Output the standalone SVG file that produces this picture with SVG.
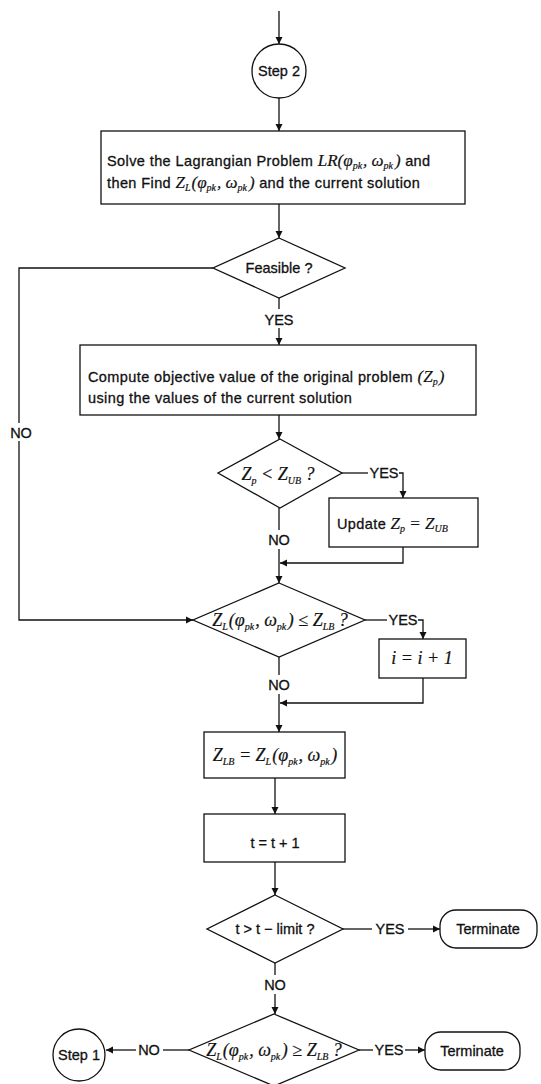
<svg xmlns="http://www.w3.org/2000/svg" width="541" height="1084" viewBox="0 0 541 1084">
<defs>
<marker id="ah" viewBox="0 0 10 10" refX="10" refY="5" markerWidth="7" markerHeight="8" orient="auto" markerUnits="userSpaceOnUse">
<path d="M0,0 L10,5 L0,10 z" fill="#111"/>
</marker>
</defs>
<style>
.s{fill:#fff;stroke:#111;stroke-width:1.3}
.c{fill:none;stroke:#111;stroke-width:1.3}
.a{fill:none;stroke:#111;stroke-width:1.3;marker-end:url(#ah)}
.t{font-family:"Liberation Sans",Arial,sans-serif;font-size:14.5px;letter-spacing:0.4px;fill:#111;stroke:#111;stroke-width:0.3}
.l{font-family:"Liberation Sans",Arial,sans-serif;font-size:14.5px;fill:#111;stroke:#111;stroke-width:0.3;text-anchor:middle}
.m{font-family:"Liberation Serif","Times New Roman",serif;font-style:italic;font-size:17px;letter-spacing:0;fill:#111;stroke:#111;stroke-width:0.2}
.d{font-family:"Liberation Serif","Times New Roman",serif;font-style:italic;font-size:18px;fill:#111;stroke:#111;stroke-width:0.2;text-anchor:middle}
.sb{font-size:10px}
</style>
<rect width="541" height="1084" fill="#fff"/>

<g id="connectors">
<path class="a" d="M279,11 V44"/>
<path class="a" d="M279,98 V131"/>
<path class="a" d="M279,204 V238"/>
<path class="c" d="M279,298 V309"/>
<path class="a" d="M279,328 V345"/>
<path class="c" d="M213,268 H19 V423"/>
<path class="a" d="M19,441 V620 H193"/>
<path class="a" d="M279,415 V439"/>
<path class="c" d="M342,473 H368"/>
<path class="a" d="M399,473 H403 V498"/>
<path class="a" d="M403,547 V563 H280"/>
<path class="c" d="M279,508 V530"/>
<path class="a" d="M279,549 V583"/>
<path class="c" d="M365,620 H387"/>
<path class="a" d="M418,620 H423 V639"/>
<path class="a" d="M423,678 V703 H280"/>
<path class="c" d="M279,657 V675"/>
<path class="a" d="M279,694 V732"/>
<path class="a" d="M275,778 V814"/>
<path class="a" d="M275,862 V895"/>
<path class="c" d="M343,929 H372"/>
<path class="a" d="M408,929 H440"/>
<path class="c" d="M275,963 V975"/>
<path class="a" d="M275,994 V1014"/>
<path class="c" d="M189,1050 H163"/>
<path class="a" d="M136,1050 H106"/>
<path class="c" d="M359,1050 H373"/>
<path class="a" d="M405,1050 H425"/>
<text class="l" x="279" y="325">YES</text>
<text class="l" x="21" y="438">NO</text>
<text class="l" x="384" y="478">YES</text>
<text class="l" x="279" y="545">NO</text>
<text class="l" x="403" y="625">YES</text>
<text class="l" x="279" y="690">NO</text>
<text class="l" x="390" y="934">YES</text>
<text class="l" x="275" y="990">NO</text>
<text class="l" x="149" y="1055">NO</text>
<text class="l" x="389" y="1055">YES</text>
</g>

<g id="step2">
<circle class="s" cx="279" cy="71" r="27"/>
<text class="l" x="279" y="76">Step 2</text>
</g>

<g id="solve-lr">
<rect class="s" x="101" y="131" width="364" height="73"/>
<text class="t" x="107" y="166">Solve the Lagrangian Problem <tspan class="m">LR</tspan><tspan class="m">(φ</tspan><tspan class="m sb" dy="3">pk</tspan><tspan class="m" dy="-3" dx="1">, ω</tspan><tspan class="m sb" dy="3">pk</tspan><tspan class="m" dy="-3" dx="2">)</tspan>  and</text>
<text class="t" x="107" y="188">then Find  <tspan class="m">Z</tspan><tspan class="m sb" dy="3">L</tspan><tspan class="m" dy="-3" dx="1">(φ</tspan><tspan class="m sb" dy="3">pk</tspan><tspan class="m" dy="-3" dx="1">, ω</tspan><tspan class="m sb" dy="3">pk</tspan><tspan class="m" dy="-3" dx="2">)</tspan> and the current solution</text>
</g>

<g id="feasible">
<polygon class="s" points="279,238 345,268 279,298 213,268"/>
<text class="l" x="279" y="273">Feasible ?</text>
</g>

<g id="compute-zp">
<rect class="s" x="80" y="345" width="396" height="70"/>
<text class="t" x="88" y="382">Compute objective value of the original problem <tspan class="m">(Z</tspan><tspan class="m sb" dy="3">p</tspan><tspan class="m" dy="-3" dx="1">)</tspan></text>
<text class="t" x="88" y="403">using the values of the current solution</text>
</g>

<g id="zp-lt-zub">
<polygon class="s" points="280,439 342,473 280,508 218,473"/>
<text class="d" x="278" y="480" font-size="20">Z<tspan class="sb" dy="4">p</tspan><tspan dy="-4"> &lt; Z</tspan><tspan class="sb" dy="4">UB</tspan><tspan dy="-4"> ?</tspan></text>
</g>

<g id="update-zp">
<rect class="s" x="329" y="498" width="149" height="49"/>
<text class="t" x="337" y="529">Update  <tspan class="m" font-size="18">Z</tspan><tspan class="m sb" dy="3">p</tspan><tspan class="m" dy="-3" font-size="18"> = Z</tspan><tspan class="m sb" dy="3">UB</tspan></text>
</g>

<g id="zl-le-zlb">
<polygon class="s" points="279,583 365,620 279,657 193,620"/>
<text class="d" x="280" y="626">Z<tspan class="sb" dy="4">L</tspan><tspan dy="-4" dx="1">(φ</tspan><tspan class="sb" dy="4">pk</tspan><tspan dy="-4" dx="1">, ω</tspan><tspan class="sb" dy="4">pk</tspan><tspan dy="-4" dx="1.5">) ≤ Z</tspan><tspan class="sb" dy="4">LB</tspan><tspan dy="-4"> ?</tspan></text>
</g>

<g id="increment-i">
<rect class="s" x="379" y="639" width="87" height="39"/>
<text class="d" x="422" y="664" font-size="16">i = i + 1</text>
</g>

<g id="set-zlb">
<rect class="s" x="204" y="732" width="141" height="46"/>
<text class="d" x="275" y="761">Z<tspan class="sb" dy="4">LB</tspan><tspan dy="-4"> = Z</tspan><tspan class="sb" dy="4">L</tspan><tspan dy="-4" dx="1">(φ</tspan><tspan class="sb" dy="4">pk</tspan><tspan dy="-4" dx="1">, ω</tspan><tspan class="sb" dy="4">pk</tspan><tspan dy="-4" dx="1.5">)</tspan></text>
</g>

<g id="increment-t">
<rect class="s" x="204" y="814" width="141" height="48"/>
<text class="l" x="275" y="848">t = t + 1</text>
</g>

<g id="t-limit">
<polygon class="s" points="275,895 343,929 275,963 207,929"/>
<text class="l" x="275" y="934">t &gt; t − limit ?</text>
</g>

<g id="terminate1">
<rect class="s" x="440" y="910" width="97" height="38" rx="16"/>
<text class="l" x="488" y="934">Terminate</text>
</g>

<g id="zl-ge-zlb">
<polygon class="s" points="274,1014 359,1050 274,1086 189,1050"/>
<text class="d" x="274" y="1056">Z<tspan class="sb" dy="4">L</tspan><tspan dy="-4" dx="1">(φ</tspan><tspan class="sb" dy="4">pk</tspan><tspan dy="-4" dx="1">, ω</tspan><tspan class="sb" dy="4">pk</tspan><tspan dy="-4" dx="1.5">) ≥ Z</tspan><tspan class="sb" dy="4">LB</tspan><tspan dy="-4"> ?</tspan></text>
</g>

<g id="terminate2">
<rect class="s" x="425" y="1032" width="95" height="38" rx="16"/>
<text class="l" x="472" y="1056">Terminate</text>
</g>

<g id="step1">
<circle class="s" cx="79" cy="1055" r="26"/>
<text class="l" x="79" y="1060">Step 1</text>
</g>
</svg>
